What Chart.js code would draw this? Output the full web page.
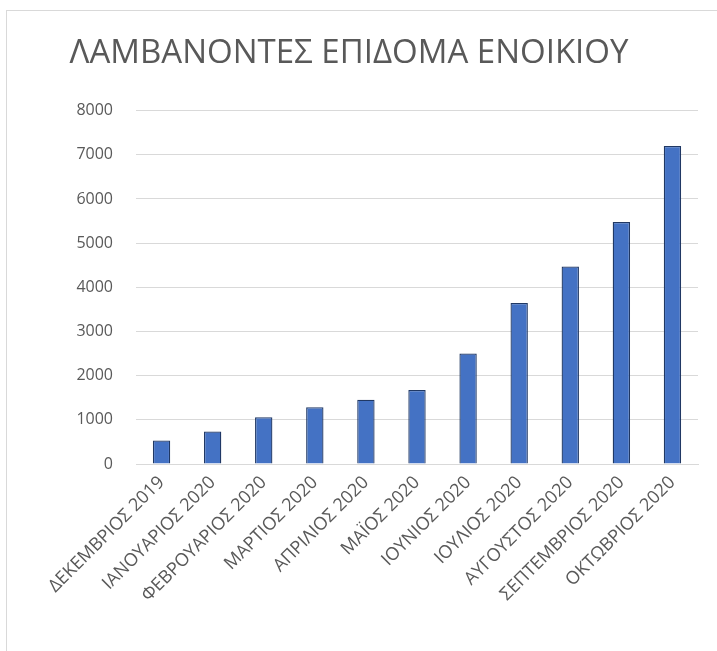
<!DOCTYPE html>
<html>
<head>
<meta charset="utf-8">
<script src="https://cdn.jsdelivr.net/npm/chart.js@4.4.0/dist/chart.umd.min.js"></script>
<style>
html,body{margin:0;padding:0;background:#fff;}
#wrap{position:relative;width:717px;height:651px;}
</style>
</head>
<body>
<div id="wrap"><canvas id="c" width="717" height="651"></canvas></div>
<script>
const titleText = "ΛΑΜΒΑΝΟΝΤΕΣ ΕΠΙΔΟΜΑ ΕΝΟΙΚΙΟΥ";
const categories = ["ΔΕΚΕΜΒΡΙΟΣ 2019","ΙΑΝΟΥΑΡΙΟΣ 2020","ΦΕΒΡΟΥΑΡΙΟΣ 2020","ΜΑΡΤΙΟΣ 2020","ΑΠΡΙΛΙΟΣ 2020","ΜΑΪΟΣ 2020","ΙΟΥΝΙΟΣ 2020","ΙΟΥΛΙΟΣ 2020","ΑΥΓΟΥΣΤΟΣ 2020","ΣΕΠΤΕΜΒΡΙΟΣ 2020","ΟΚΤΩΒΡΙΟΣ 2020"];
const values = [532, 735, 1060, 1285, 1457, 1675, 2503, 3644, 4471, 5479, 7200];
const yTicks = [0,1000,2000,3000,4000,5000,6000,7000,8000];

const borderPlugin = {
  id:'outerBorder',
  beforeDraw(chart){
    const ctx = chart.ctx;
    ctx.save();
    ctx.fillStyle='#fff';
    ctx.fillRect(0,0,chart.width,chart.height);
    ctx.strokeStyle='#d9d9d9';
    ctx.lineWidth=1;
    ctx.strokeRect(6.5,10.5,900,900);
    ctx.restore();
  }
};

new Chart(document.getElementById('c'), {
  type:'bar',
  data:{
    labels:categories,
    datasets:[{
      data:values,
      backgroundColor:'#4472C4',
      borderColor:'#203864',
      borderWidth:1.3,
      barPercentage:0.34,
      categoryPercentage:1
    }]
  },
  plugins:[borderPlugin],
  options:{
    responsive:false,
    animation:false,
    devicePixelRatio:1,
    layout:{padding:{left:0,right:19,top:0,bottom:0}},
    plugins:{
      legend:{display:false},
      tooltip:{enabled:false},
      title:{
        display:true,
        text:titleText,
        color:'#595959',
        font:{family:'"Open Sans", sans-serif',size:33,weight:'normal'},
        padding:{top:34,bottom:37}
      }
    },
    scales:{
      x:{
        grid:{display:false},
        border:{color:'#d9d9d9',width:1},
        ticks:{
          color:'#595959',
          font:{family:'"Open Sans", sans-serif',size:18},
          maxRotation:45,minRotation:45,autoSkip:false,padding:0
        },
        afterFit(s){ s.height = 187; }
      },
      y:{
        min:0,max:8000,
        border:{display:false},
        grid:{color:'#d9d9d9',lineWidth:1,drawTicks:false},
        afterBuildTicks(s){ s.ticks = yTicks.map(v=>({value:v})); },
        ticks:{
          color:'#595959',
          font:{family:'"Open Sans", sans-serif',size:16},
          padding:23,
          callback:(v)=>String(v)
        },
        afterFit(s){ s.width = 136; }
      }
    }
  }
});
</script>
</body>
</html>
